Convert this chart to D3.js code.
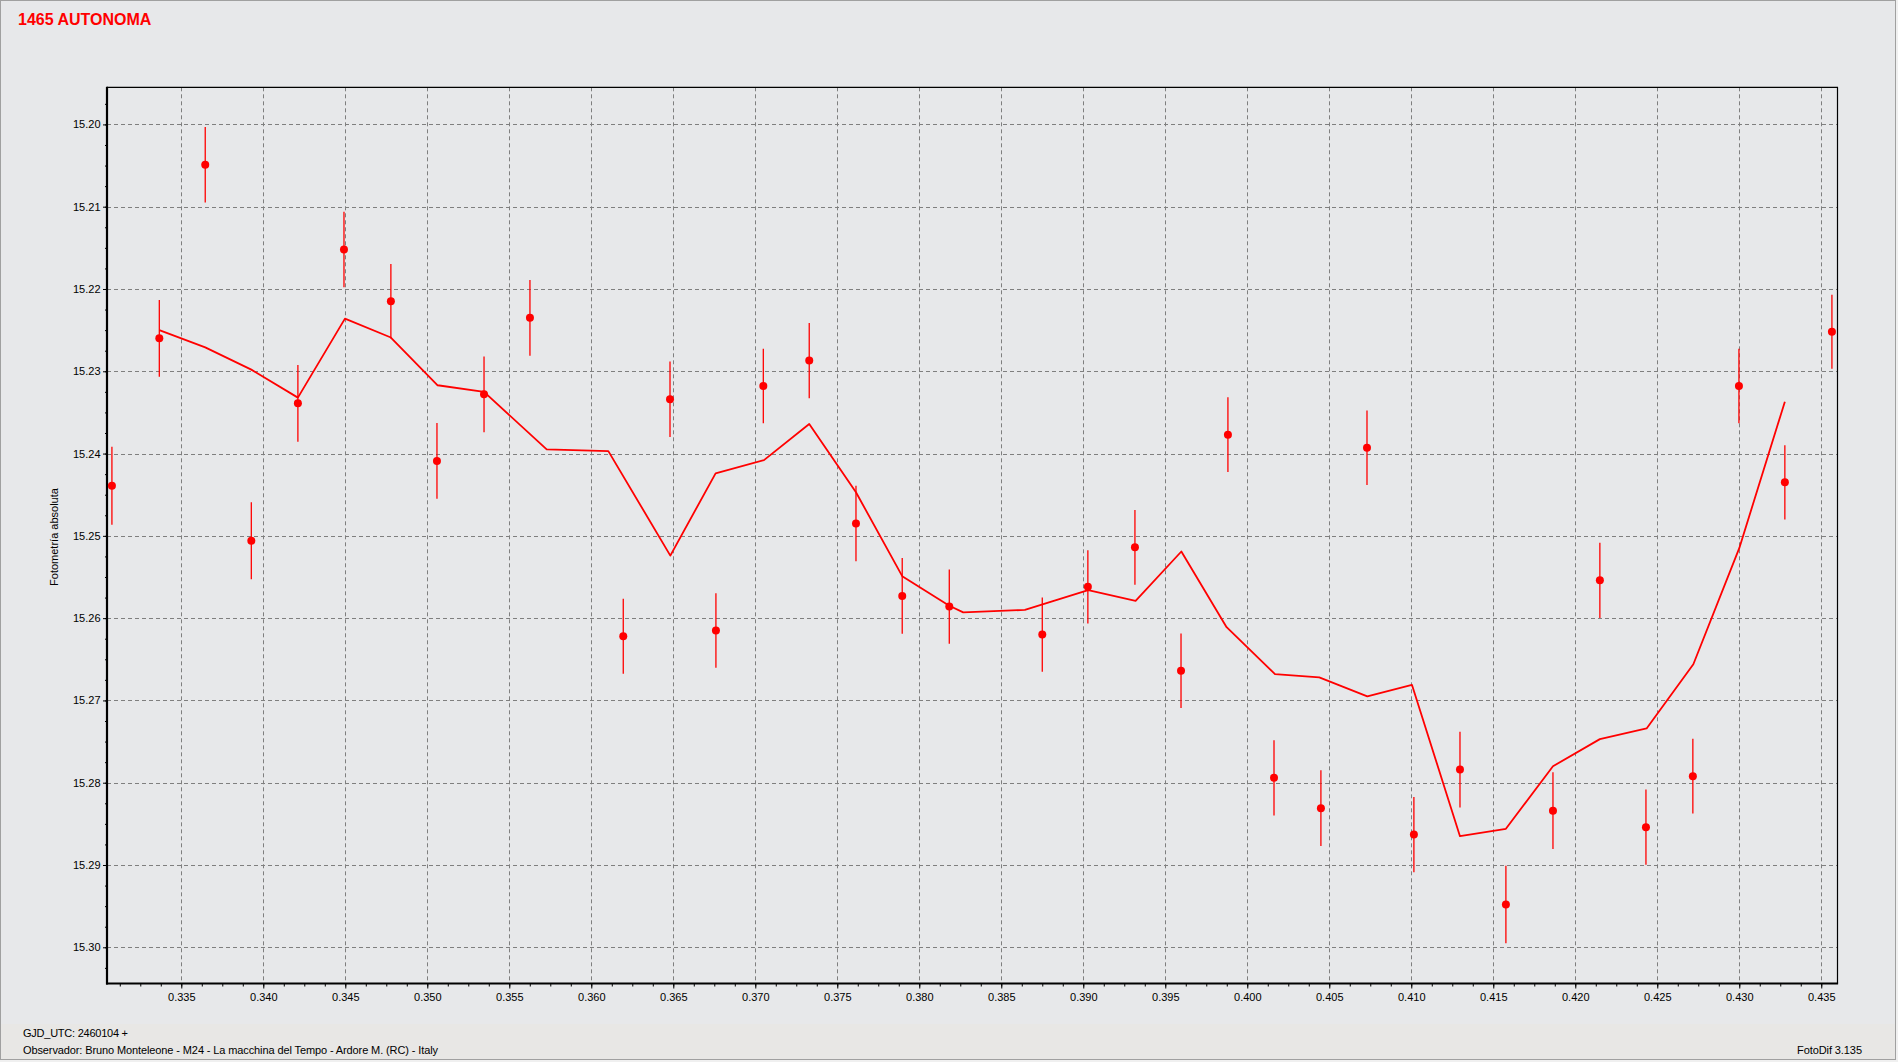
<!DOCTYPE html>
<html>
<head>
<meta charset="utf-8">
<script src="https://cdn.jsdelivr.net/npm/d3@7"></script>
<style>
  html, body { margin: 0; padding: 0; background: #f0f0f0; }
  svg { display: block; }
  text { font-family: "Liberation Sans", Arial, sans-serif; }
</style>
</head>
<body>
<svg id="chart" width="1898" height="1062"></svg>
<script>
// ---- data ----
const title = "1465 AUTONOMA";
const yAxisLabel = "Fotometría absoluta";
const footerDate = "GJD_UTC: 2460104 +";
const footerObserver = "Observador: Bruno Monteleone - M24 - La macchina del Tempo - Ardore M. (RC) - Italy";
const footerSoftware = "FotoDif 3.135";

const ptX = [0.33077, 0.33366, 0.33646, 0.33927, 0.34211, 0.34492, 0.34778, 0.35059, 0.35346, 0.35626,
             0.36195, 0.36480, 0.36760, 0.37049, 0.37329, 0.37614, 0.37896, 0.38183, 0.38750, 0.39028,
             0.39315, 0.39596, 0.39882, 0.40163, 0.40449, 0.40730, 0.41016, 0.41297, 0.41577, 0.41864,
             0.42150, 0.42431, 0.42717, 0.42998, 0.43278, 0.43565];
const ptY = [15.2439, 15.2260, 15.2049, 15.2506, 15.2339, 15.2152, 15.2215, 15.2409, 15.2328, 15.2235,
             15.2622, 15.2334, 15.2615, 15.2318, 15.2287, 15.2485, 15.2573, 15.2586, 15.2620, 15.2562,
             15.2514, 15.2664, 15.2377, 15.2794, 15.2831, 15.2393, 15.2863, 15.2784, 15.2948, 15.2834,
             15.2554, 15.2854, 15.2792, 15.2318, 15.2435, 15.2252];
const ptErr = [0.00474, 0.00467, 0.00460, 0.00467, 0.00467, 0.00460, 0.00453, 0.00460, 0.00460, 0.00460,
               0.00457, 0.00460, 0.00453, 0.00453, 0.00457, 0.00460, 0.00460, 0.00450, 0.00450, 0.00446,
               0.00453, 0.00453, 0.00453, 0.00457, 0.00460, 0.00453, 0.00457, 0.00460, 0.00470, 0.00467,
               0.00457, 0.00457, 0.00453, 0.00453, 0.00450, 0.00450];

const lineX = [0.33366, 0.33646, 0.33927, 0.34211, 0.34498, 0.34778, 0.35063, 0.35346, 0.35728, 0.36104,
               0.36482, 0.36758, 0.37053, 0.37329, 0.37614, 0.37896, 0.38183, 0.38268, 0.38644, 0.39030,
               0.39319, 0.39598, 0.39874, 0.40169, 0.40439, 0.40732, 0.41004, 0.41297, 0.41577, 0.41864,
               0.42150, 0.42435, 0.42720, 0.43000, 0.43278];
const lineY = [15.2250, 15.2271, 15.2298, 15.2332, 15.2236, 15.2259, 15.2317, 15.2325, 15.2395, 15.2397,
               15.2524, 15.2424, 15.2408, 15.2364, 15.2447, 15.2549, 15.2585, 15.2593, 15.2590, 15.2566,
               15.2579, 15.2519, 15.2611, 15.2668, 15.2672, 15.2695, 15.2681, 15.2865, 15.2856, 15.2780,
               15.2747, 15.2734, 15.2656, 15.2515, 15.2337];

const xTickValues = [0.335, 0.340, 0.345, 0.350, 0.355, 0.360, 0.365, 0.370, 0.375, 0.380, 0.385,
                     0.390, 0.395, 0.400, 0.405, 0.410, 0.415, 0.420, 0.425, 0.430, 0.435];
const yTickValues = [15.20, 15.21, 15.22, 15.23, 15.24, 15.25, 15.26, 15.27, 15.28, 15.29, 15.30];
const xDomain = [0.33047, 0.43599];
const yDomain = [15.19549, 15.30440];

// ---- layout ----
const W = 1898, H = 1062;
const L = 107, R = 1837.5, T = 87.3, B = 983.5;
const RED = "#ff0000";

const svg = d3.select("#chart");

// window background + frame
svg.append("rect").attr("x", 0).attr("y", 0).attr("width", 1896).attr("height", 1060).attr("fill", "#e7e8ea");
svg.append("rect").attr("x", 0).attr("y", 1024).attr("width", 1896).attr("height", 36).attr("fill", "#e8e7e5");
svg.append("rect").attr("x", 0.5).attr("y", 0.5).attr("width", 1895).attr("height", 1059)
   .attr("fill", "none").attr("stroke", "#a0a0a0").attr("stroke-width", 1);

const x = d3.scaleLinear().domain(xDomain).range([L, R]);
const y = d3.scaleLinear().domain(yDomain).range([T, B]);

// gridlines
const grid = svg.append("g").attr("stroke", "#7f7f7f").attr("stroke-width", 1).attr("stroke-dasharray", "4,3");
grid.selectAll("line.vx").data(xTickValues).join("line")
  .attr("x1", d => Math.round(x(d)) + 0.5).attr("x2", d => Math.round(x(d)) + 0.5)
  .attr("y1", T).attr("y2", B);
grid.selectAll("line.hy").data(yTickValues).join("line")
  .attr("y1", d => Math.round(y(d)) + 0.5).attr("y2", d => Math.round(y(d)) + 0.5)
  .attr("x1", L).attr("x2", R);

// axes
const xMinor = d3.range(0.33125, 0.4360, 0.00125);
const yMinor = d3.range(15.1975, 15.3044, 0.0025);

const xAxis = d3.axisBottom(x).tickValues(xTickValues).tickFormat(d3.format(".3f")).tickSize(5).tickSizeOuter(0);
const xAxisMinor = d3.axisBottom(x).tickValues(xMinor).tickFormat("").tickSize(3).tickSizeOuter(0);
const yAxis = d3.axisLeft(y).tickValues(yTickValues).tickFormat(d3.format(".2f")).tickSize(4).tickSizeOuter(0);
const yAxisMinor = d3.axisLeft(y).tickValues(yMinor).tickFormat("").tickSize(2).tickSizeOuter(0);

function styleAxis(g) {
  g.select(".domain").remove();
  g.selectAll("line").attr("stroke", "#000");
  g.selectAll("text").attr("fill", "#000").style("font-size", "11px")
    .style("font-family", '"Liberation Sans", Arial, sans-serif');
}
svg.append("g").attr("transform", `translate(0,${B})`).call(xAxisMinor).call(styleAxis);
svg.append("g").attr("transform", `translate(0,${B})`).call(xAxis).call(styleAxis)
   .selectAll("text").attr("dy", "1.05em").attr("y", 6);
svg.append("g").attr("transform", `translate(0,0) translate(${L},0)`).call(yAxisMinor).call(styleAxis);
svg.append("g").attr("transform", `translate(${L},0)`).call(yAxis).call(styleAxis)
   .selectAll("text").attr("x", -6.5);

// frame
svg.append("line").attr("x1", L).attr("x2", R + 0.5).attr("y1", T).attr("y2", T).attr("stroke", "#000").attr("stroke-width", 1.2);
svg.append("line").attr("x1", R).attr("x2", R).attr("y1", T).attr("y2", B).attr("stroke", "#000").attr("stroke-width", 1.2);
svg.append("line").attr("x1", L).attr("x2", L).attr("y1", T - 0.6).attr("y2", B + 1).attr("stroke", "#000").attr("stroke-width", 2.2);
svg.append("line").attr("x1", L - 1).attr("x2", R + 0.6).attr("y1", B).attr("y2", B).attr("stroke", "#000").attr("stroke-width", 2.2);

// running line
const pts = lineX.map((d, i) => [d, lineY[i]]);
svg.append("path")
  .attr("d", d3.line().x(d => x(d[0])).y(d => y(d[1]))(pts))
  .attr("fill", "none").attr("stroke", RED).attr("stroke-width", 1.8).attr("stroke-linejoin", "round");

// error bars and points
const data = ptX.map((d, i) => ({ x: d, y: ptY[i], e: ptErr[i] }));
svg.append("g").selectAll("line").data(data).join("line")
  .attr("x1", d => x(d.x)).attr("x2", d => x(d.x))
  .attr("y1", d => y(d.y - d.e)).attr("y2", d => y(d.y + d.e))
  .attr("stroke", RED).attr("stroke-width", 1.3);
svg.append("g").selectAll("circle").data(data).join("circle")
  .attr("cx", d => x(d.x)).attr("cy", d => y(d.y)).attr("r", 4)
  .attr("fill", RED);

// texts
svg.append("text").attr("x", 18).attr("y", 25).text(title)
  .attr("fill", RED).style("font-size", "16px").style("font-weight", "bold");

svg.append("text").attr("transform", `translate(58,537) rotate(-90)`).attr("text-anchor", "middle")
  .style("font-size", "11px").attr("fill", "#000").text(yAxisLabel);

svg.append("text").attr("x", 23).attr("y", 1037).style("font-size", "11px").attr("fill", "#000")
  .attr("textLength", 105).attr("lengthAdjust", "spacing").text(footerDate);
svg.append("text").attr("x", 23).attr("y", 1054).style("font-size", "11px").attr("fill", "#000")
  .attr("textLength", 415).attr("lengthAdjust", "spacing").text(footerObserver);
svg.append("text").attr("x", 1797).attr("y", 1054).style("font-size", "11px").attr("fill", "#000")
  .attr("textLength", 65).attr("lengthAdjust", "spacing").text(footerSoftware);
</script>
</body>
</html>
